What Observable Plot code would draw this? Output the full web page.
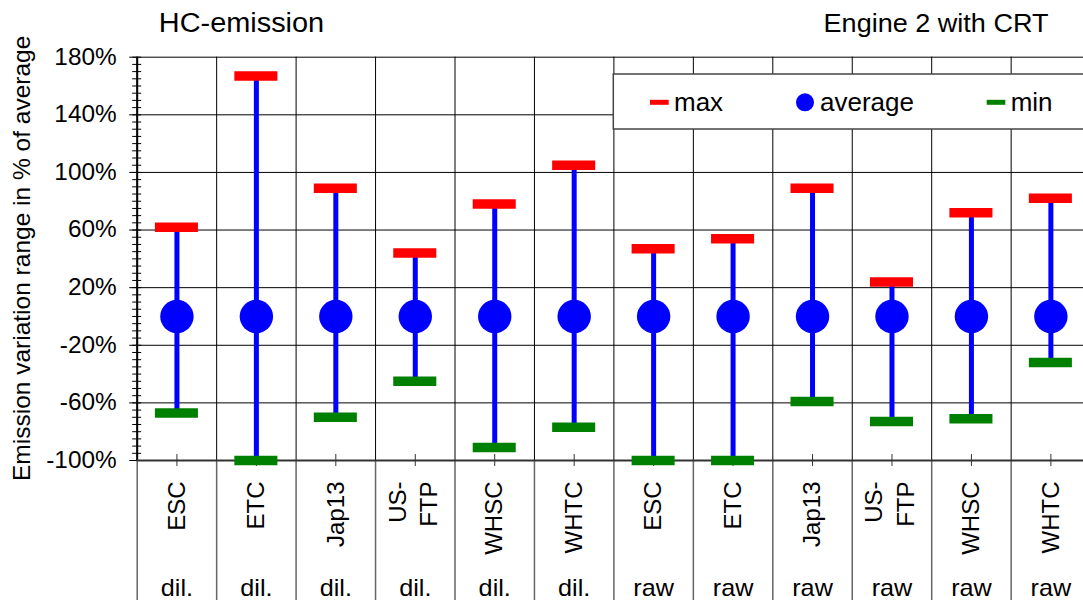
<!DOCTYPE html>
<html><head><meta charset="utf-8">
<script src="https://cdn.jsdelivr.net/npm/d3@7"></script>
<script src="https://cdn.jsdelivr.net/npm/@observablehq/plot@0.6"></script>
<style>
html,body{margin:0;padding:0;background:#fff;overflow:hidden;}
#chart{width:1083px;height:600px;overflow:hidden;position:relative;}
#chart svg{max-width:none !important;}
</style></head><body><div id="chart"></div>
<script>
// ---- data ----
const cycles = ["ESC","ETC","Jap13","US-\nFTP","WHSC","WHTC","ESC","ETC","Jap13","US-\nFTP","WHSC","WHTC"];
const sampling = ["dil.","dil.","dil.","dil.","dil.","dil.","raw","raw","raw","raw","raw","raw"];
const maxValues = [62, 167, 89, 44, 78, 105, 47, 54, 89, 24, 72, 82];
const avgValues = [0, 0, 0, 0, 0, 0, 0, 0, 0, 0, 0, 0];
const minValues = [-67, -100, -70, -45, -91, -77, -100, -100, -59, -73, -71, -32];
const yTicks = [-100, -60, -20, 20, 60, 100, 140, 180];
const yDomain = [-100, 180];
const title = "HC-emission";
const subtitle = "Engine 2 with CRT";
const yLabel = "Emission variation range in % of average";
const legendLabels = ["max", "average", "min"];
const colors = {max: "#ff0000", avg: "#0000ff", min: "#008000"};

const data = cycles.map((c, i) => ({i, cycle: c, sampling: sampling[i], max: maxValues[i], avg: avgValues[i], min: minValues[i]}));
const bounds = d3.range(cycles.length + 1);
const minorTicks = d3.range(yDomain[0], yDomain[1] + 1, 5);
const FONT = "'Liberation Sans', Arial, sans-serif";
const single = data.filter(d => !d.cycle.includes("\n"));
const multi = data.filter(d => d.cycle.includes("\n"));
const fmtPct = d => d + "%";

const W = 1100, H = 600;
const mL = 136.7, mT = 56.7;
const plot = Plot.plot({
  width: W, height: H,
  marginLeft: mL, marginRight: 9.9, marginTop: mT, marginBottom: 140,
  style: {fontFamily: FONT, background: "white", overflow: "visible", color: "#000", maxWidth: "none"},
  x: {domain: [0, cycles.length], axis: null},
  y: {domain: yDomain, axis: null},
  marks: [
    // grid
    Plot.ruleY(yTicks, {stroke: "#000", strokeWidth: 1}),
    Plot.ruleX(bounds, {y1: yDomain[1], y2: yDomain[0], stroke: "#000", strokeWidth: 1}),
    Plot.ruleX(bounds, {y1: yDomain[0], y2: yDomain[0], insetBottom: -150, stroke: "#666", strokeWidth: 1.5}),
    // y axis ticks
    Plot.ruleY(minorTicks, {x1: 0, x2: 0, insetLeft: -4.5, insetRight: -4.5, stroke: "#000", strokeWidth: 1}),
    Plot.ruleY(yTicks, {x1: 0, x2: 0, insetLeft: -7.5, stroke: "#000", strokeWidth: 1}),
    Plot.text(yTicks, {x: 0, y: d => d, text: fmtPct, textAnchor: "end", dx: -20.5, fontSize: 23, fill: "#000"}),
    // axes lines
    Plot.ruleX([0], {stroke: "#000", strokeWidth: 2}),
    Plot.ruleY([yDomain[0]], {stroke: "#333", strokeWidth: 2}),
    Plot.ruleX(data, {x: d => d.i + 0.5, y1: yDomain[0], y2: yDomain[0], insetTop: -6, insetBottom: -6, stroke: "#333", strokeWidth: 1}),
    // data
    Plot.ruleX(data, {x: d => d.i + 0.5, y1: "min", y2: "max", stroke: colors.avg, strokeWidth: 5}),
    Plot.ruleY(data, {y: "max", x1: "i", x2: d => d.i + 1, insetLeft: 18.2, insetRight: 18.2, stroke: colors.max, strokeWidth: 9.5}),
    Plot.ruleY(data, {y: "min", x1: "i", x2: d => d.i + 1, insetLeft: 18.2, insetRight: 18.2, stroke: colors.min, strokeWidth: 9.5}),
    Plot.dot(data, {x: d => d.i + 0.5, y: "avg", r: 16.7, fill: colors.avg, stroke: null}),
    // category labels
    Plot.text(single, {x: d => d.i + 0.5, y: yDomain[0], text: "cycle", rotate: -90, textAnchor: "end", dy: 21, fontSize: 24, fill: "#000"}),
    Plot.text(multi, {x: d => d.i + 0.5, y: yDomain[0], text: "cycle", rotate: -90, textAnchor: "end", dy: 21, dx: -4, fontSize: 24, lineHeight: 1.3, fill: "#000"}),
    Plot.text(data, {x: d => d.i + 0.5, y: yDomain[0], text: "sampling", dy: 127.5, fontSize: 24, fill: "#000"}),
    // titles
    Plot.text([title], {frameAnchor: "top-left", text: d => d, dx: 158.3 - mL, dy: 31.7 - mT, lineAnchor: "bottom", textAnchor: "start", fontSize: 27, fill: "#000"}),
    Plot.text([subtitle], {frameAnchor: "top-left", text: d => d, dx: 1048 - mL, dy: 31.7 - mT, lineAnchor: "bottom", textAnchor: "end", fontSize: 26, fill: "#000"})
  ]
});
plot.style.maxWidth = "none";

const svg = d3.select(plot);
// y axis title
svg.append("text")
  .attr("transform", `translate(30.3,${(mT + 460) / 2}) rotate(-90)`)
  .attr("text-anchor", "middle")
  .attr("font-family", FONT).attr("font-size", 24.5).attr("fill", "#000")
  .text(yLabel);

// legend
const lg = svg.append("g").attr("font-family", FONT).attr("font-size", 25).attr("fill", "#000").attr("text-anchor", "start");
lg.append("rect").attr("x", 613.3).attr("y", 74).attr("width", 490).attr("height", 55)
  .attr("fill", "#fff").attr("stroke", "#444").attr("stroke-width", 1.5);
const ly = 102.3, lb = 110.7;
lg.append("line").attr("x1", 650).attr("x2", 668.7).attr("y1", ly).attr("y2", ly).attr("stroke", colors.max).attr("stroke-width", 5);
lg.append("text").attr("x", 674).attr("y", lb).text(legendLabels[0]);
lg.append("circle").attr("cx", 805).attr("cy", ly).attr("r", 9).attr("fill", colors.avg);
lg.append("text").attr("x", 820).attr("y", lb).text(legendLabels[1]);
lg.append("line").attr("x1", 986.7).attr("x2", 1005.3).attr("y1", ly).attr("y2", ly).attr("stroke", colors.min).attr("stroke-width", 5);
lg.append("text").attr("x", 1010.7).attr("y", lb).text(legendLabels[2]);

document.getElementById("chart").appendChild(plot);

// the reference's lettering is slightly wider than Arial: stretch horizontal texts a little
const stretchBy = new Map([
  [title, 1.07], [subtitle, 1.04],
  ...yTicks.map(t => [fmtPct(t), 1.06]),
  ...sampling.map(s => [s, 1.05]),
  ...legendLabels.map(s => [s, 1.04])
]);
svg.selectAll("text").each(function () {
  if (this.querySelector("tspan")) return;
  const k = stretchBy.get(this.textContent);
  if (!k) return;
  const L = this.getComputedTextLength();
  if (L > 0) {
    this.setAttribute("textLength", (L * k).toFixed(2));
    this.setAttribute("lengthAdjust", "spacingAndGlyphs");
  }
});
</script></body></html>
